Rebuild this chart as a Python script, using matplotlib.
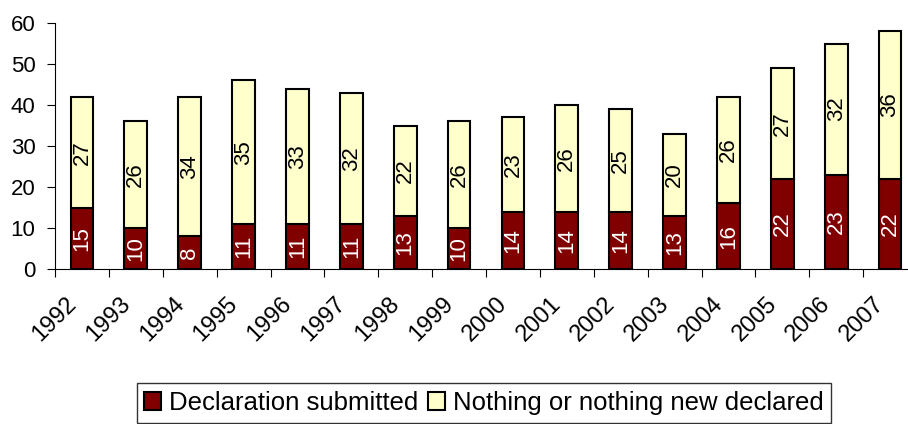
import matplotlib.pyplot as plt
import numpy as np
from matplotlib.transforms import ScaledTranslation

plt.rcParams["font.family"] = ["Liberation Sans", "DejaVu Sans"]

years = [str(y) for y in range(1992, 2008)]
submitted = [15, 10, 8, 11, 11, 11, 13, 10, 14, 14, 14, 13, 16, 22, 23, 22]
nothing_new = [27, 26, 34, 35, 33, 32, 22, 26, 23, 26, 25, 20, 26, 27, 32, 36]

fig = plt.figure(figsize=(9.08, 4.24), dpi=100)
ax = fig.add_axes([55 / 908, 155 / 424, 862 / 908, 246 / 424])

x = np.arange(len(years))
width = 0.42
b1 = ax.bar(x, submitted, width, color="#800000", edgecolor="black", linewidth=1.5,
            label="Declaration submitted")
b2 = ax.bar(x, nothing_new, width, bottom=submitted, color="#FFFFCC", edgecolor="black",
            linewidth=1.5, label="Nothing or nothing new declared")

for i in range(len(years)):
    ax.text(x[i], submitted[i] / 2, str(submitted[i]), rotation=90, ha="center",
            va="center", color="white", fontsize=16)
    ax.text(x[i], submitted[i] + nothing_new[i] / 2, str(nothing_new[i]), rotation=90,
            ha="center", va="center", color="black", fontsize=16)

ax.set_xlim(-0.5, len(years) - 0.5)
ax.set_ylim(0, 60)
ax.set_yticks(range(0, 61, 10))
ax.set_xticks(np.arange(-0.5, len(years), 1.0))
ax.set_xticklabels([])
ax.set_xticks(x, minor=True)
ax.set_xticklabels(years, minor=True, rotation=45, ha="right", va="center",
                   rotation_mode="anchor", fontsize=17)
ax.tick_params(axis="x", which="minor", length=0, pad=23)
ax.tick_params(axis="x", which="major", length=6, direction="out")
ax.tick_params(axis="y", labelsize=16, length=6, pad=8, direction="out")

# shift the rotated year labels left, as in the original
shift = ScaledTranslation(-9 / 100, 0, fig.dpi_scale_trans)
for lbl in ax.get_xticklabels(minor=True):
    lbl.set_transform(lbl.get_transform() + shift)

ax.spines["top"].set_visible(False)
ax.spines["right"].set_visible(False)

leg = fig.legend(handles=[b1, b2], loc="center", bbox_to_anchor=(484 / 908, 1 - 403 / 424),
                 ncol=2, fontsize=18.5, frameon=True, fancybox=False, edgecolor="black",
                 handlelength=0.65, handleheight=0.65, handletextpad=0.3, columnspacing=0.4,
                 borderpad=0.3, borderaxespad=0)
leg.get_frame().set_linewidth(1.0)

fig.savefig("out.png", dpi=100)
